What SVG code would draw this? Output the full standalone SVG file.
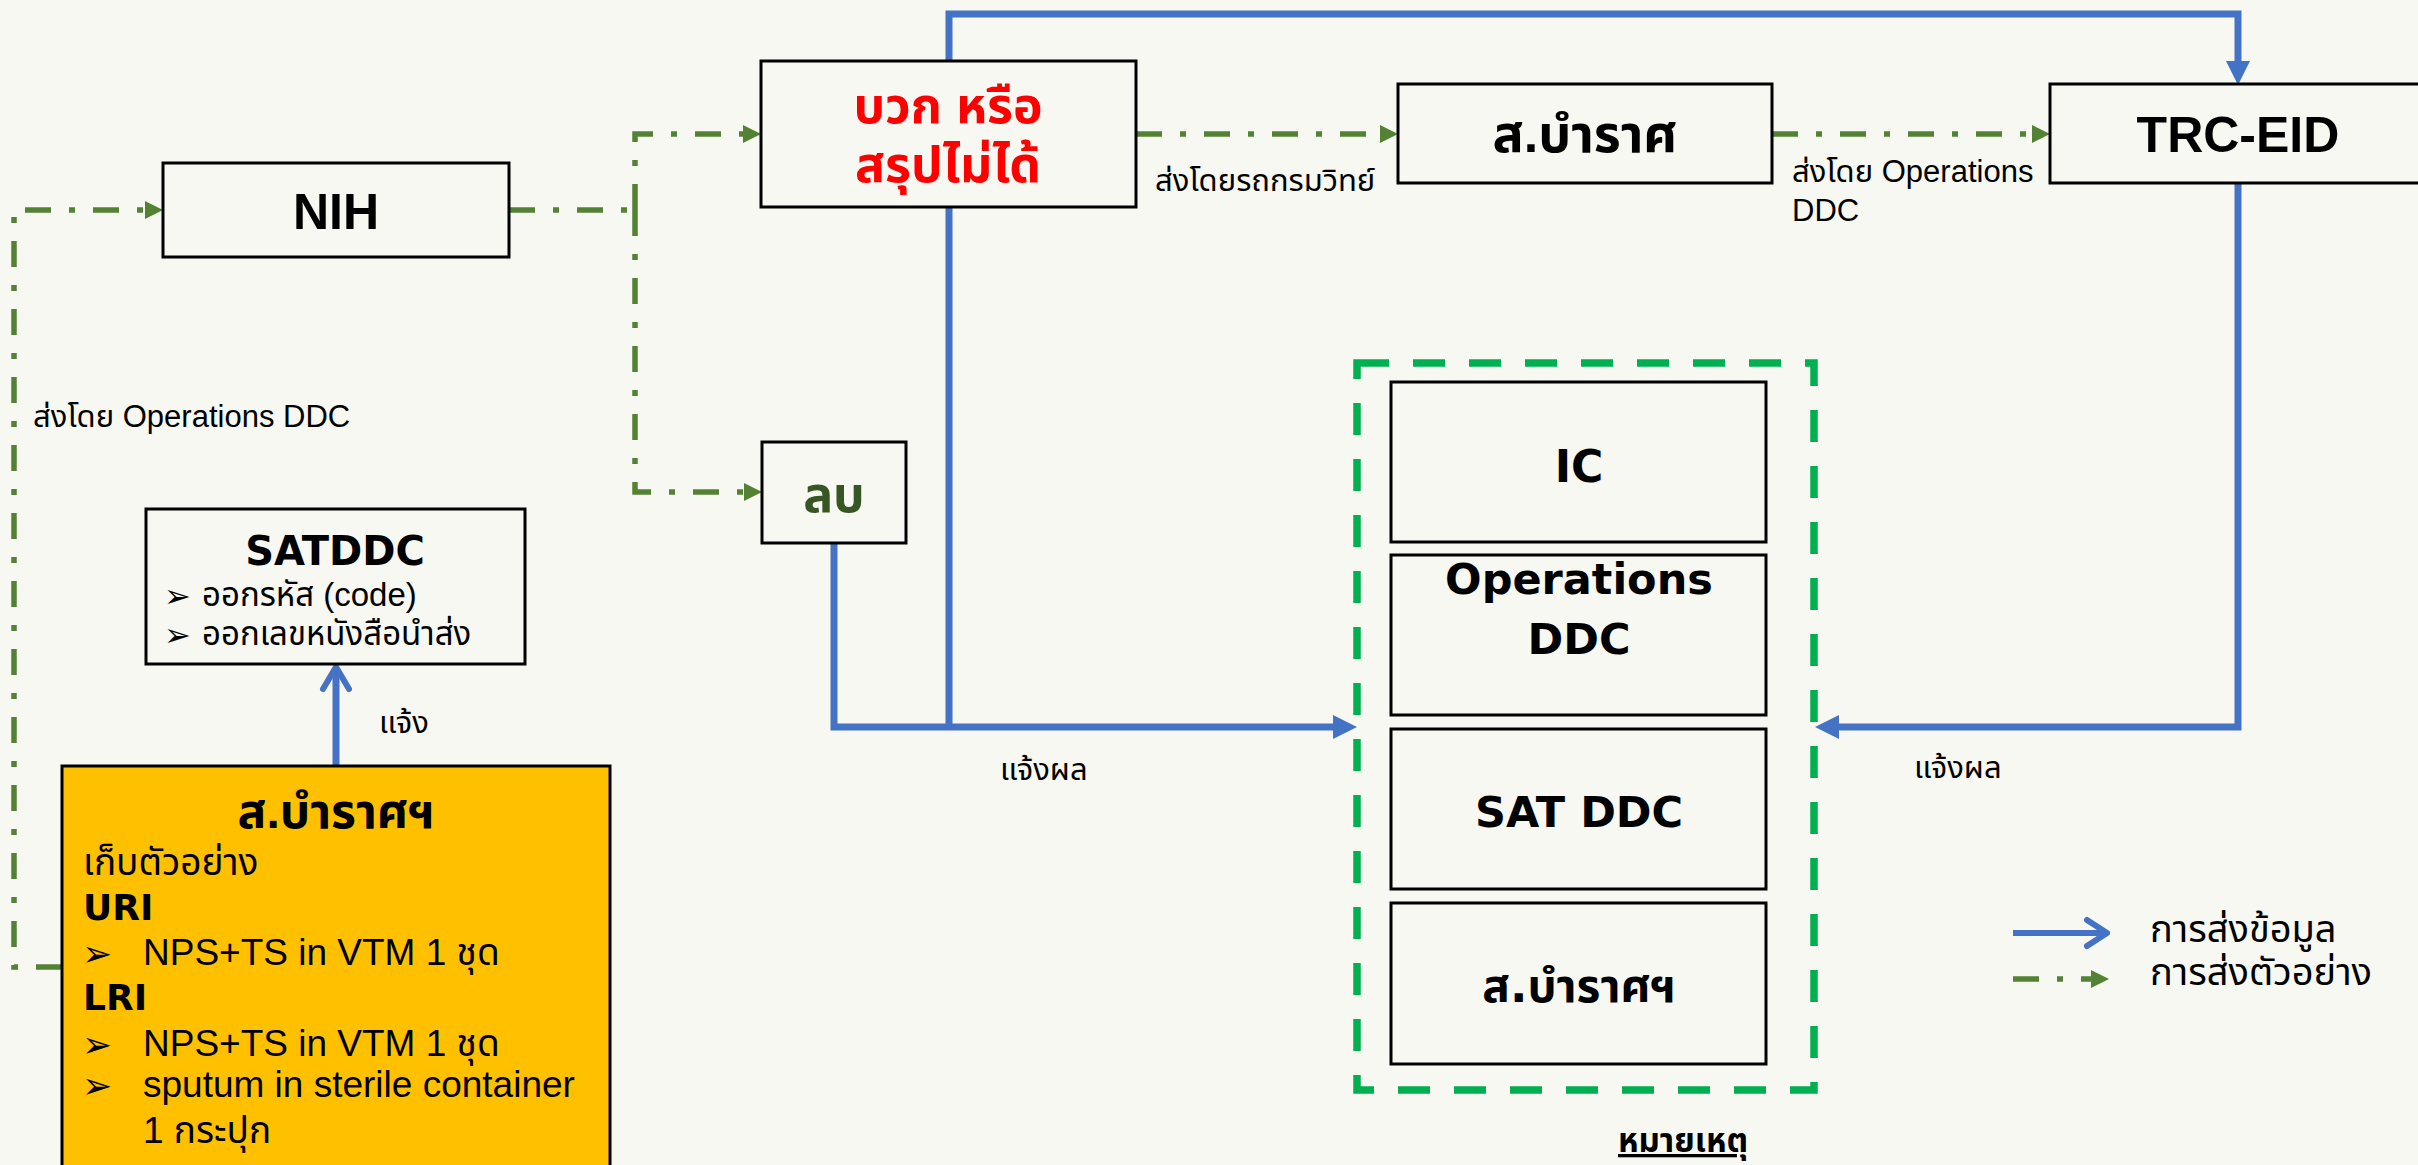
<svg xmlns="http://www.w3.org/2000/svg" width="2418" height="1165" viewBox="0 0 2418 1165">
<defs>
<style>
.bg{fill:#F6F8F1}
.box{fill:none;stroke:#000;stroke-width:3}
.t{font-family:"Liberation Sans","Noto Sans Thai","Noto Sans",sans-serif;fill:#000}
.v{font-family:"DejaVu Sans","Liberation Sans","Noto Sans Thai",sans-serif;fill:#000}
.b{font-weight:bold}
.m{text-anchor:middle}
.lbl{font-size:31px}
.blue{fill:none;stroke:#4472C4;stroke-width:7}
.green{fill:none;stroke:#548235;stroke-width:5.5;stroke-dasharray:26 18 6 18}
</style>
<marker id="ga" markerUnits="userSpaceOnUse" markerWidth="18" markerHeight="18" refX="0" refY="9" orient="auto">
<path d="M0,0 L18,9 L0,18 z" fill="#548235"/>
</marker>
<marker id="ba" markerUnits="userSpaceOnUse" markerWidth="24" markerHeight="24" refX="0" refY="12" orient="auto">
<path d="M0,0 L24,12 L0,24 z" fill="#4472C4"/>
</marker>
</defs>
<rect class="bg" x="0" y="0" width="2418" height="1165"/>

<g id="connectors">
<path class="green" d="M62,967 H14 V210 H145" marker-end="url(#ga)"/>
<path class="green" d="M509,210 H635"/>
<path class="green" d="M635,210 V134 H743" marker-end="url(#ga)"/>
<path class="green" d="M635,210 V492 H744" marker-end="url(#ga)"/>
<path class="green" d="M1136,134 H1380" marker-end="url(#ga)"/>
<path class="green" d="M1772,134 H2032" marker-end="url(#ga)"/>
<path class="blue" d="M949,61 V14 H2238 V61" marker-end="url(#ba)"/>
<path class="blue" d="M949,207 V727"/>
<path class="blue" d="M834,543 V727 H1333" marker-end="url(#ba)"/>
<path class="blue" d="M2238,183 V727 H1839" marker-end="url(#ba)"/>
<path class="blue" d="M336,766 V668"/>
<path d="M323,689 L336,667 L349,689" fill="none" stroke="#4472C4" stroke-width="6" stroke-linecap="round" stroke-linejoin="round"/>
<text class="t lbl" x="33" y="427">ส่งโดย Operations DDC</text>
<text class="t lbl" x="1155" y="191">ส่งโดยรถกรมวิทย์</text>
<text class="t lbl" x="1792" y="182">ส่งโดย Operations</text>
<text class="t lbl" x="1792" y="221">DDC</text>
<text class="t lbl" x="379" y="733">แจ้ง</text>
<text class="t lbl" x="1000" y="780">แจ้งผล</text>
<text class="t lbl" x="1914" y="778">แจ้งผล</text>
</g>

<g id="nih">
<rect class="box" x="163" y="163" width="346" height="94"/>
<text class="t b m" x="336" y="229" font-size="50">NIH</text>
</g>

<g id="positive">
<rect class="box" x="761" y="61" width="375" height="146"/>
<text class="t b m" x="948" y="123" font-size="50" style="fill:#FF0000">บวก หรือ</text>
<text class="t b m" x="948" y="182" font-size="50" style="fill:#FF0000">สรุปไม่ได้</text>
</g>

<g id="negative">
<rect class="box" x="762" y="442" width="144" height="101"/>
<text class="t b m" x="834" y="512" font-size="50" style="fill:#375623">ลบ</text>
</g>

<g id="bamrasnaradura">
<rect class="box" x="1398" y="84" width="374" height="99"/>
<text class="t b m" x="1585" y="152" font-size="52">ส.บำราศ</text>
</g>

<g id="trc-eid">
<rect class="box" x="2050" y="84" width="376" height="99"/>
<text class="t b m" x="2238" y="152" font-size="50">TRC-EID</text>
</g>

<g id="satddc">
<rect class="box" x="146" y="509" width="379" height="155"/>
<text class="v b m" x="335" y="565" font-size="40">SATDDC</text>
<text class="v" x="164" y="607" font-size="32">➢</text>
<text class="t" x="202" y="606" font-size="33">ออกรหัส (code)</text>
<text class="v" x="164" y="646" font-size="32">➢</text>
<text class="t" x="202" y="645" font-size="33">ออกเลขหนังสือนำส่ง</text>
</g>

<g id="collect">
<rect x="62" y="766" width="548" height="420" fill="#FFC000" stroke="#000" stroke-width="3"/>
<text class="t b m" x="336" y="828" font-size="48">ส.บำราศฯ</text>
<text class="t" x="83" y="875" font-size="37">เก็บตัวอย่าง</text>
<text class="v b" x="83" y="920" font-size="36">URI</text>
<text class="v" x="82" y="966" font-size="36">➢</text>
<text class="t" x="143" y="965" font-size="37">NPS+TS in VTM 1 ชุด</text>
<text class="v b" x="83" y="1010" font-size="36">LRI</text>
<text class="v" x="82" y="1057" font-size="36">➢</text>
<text class="t" x="143" y="1056" font-size="37">NPS+TS in VTM 1 ชุด</text>
<text class="v" x="82" y="1098" font-size="36">➢</text>
<text class="t" x="143" y="1097" font-size="37">sputum in sterile container</text>
<text class="t" x="143" y="1143" font-size="37">1 กระปุก</text>
</g>

<g id="receivers">
<rect x="1357" y="363" width="457" height="727" fill="none" stroke="#00B050" stroke-width="7.5" stroke-dasharray="32 24"/>
</g>
<g id="ic">
<rect class="box" x="1391" y="382" width="375" height="160"/>
<text class="v b m" x="1579" y="482" font-size="44">IC</text>
</g>
<g id="operations">
<rect class="box" x="1391" y="555" width="375" height="160"/>
<text class="v b m" x="1579" y="594" font-size="43">Operations</text>
<text class="v b m" x="1579" y="654" font-size="43">DDC</text>
</g>
<g id="sat-ddc">
<rect class="box" x="1391" y="729" width="375" height="160"/>
<text class="v b m" x="1579" y="827" font-size="43">SAT DDC</text>
</g>
<g id="bamras2">
<rect class="box" x="1391" y="903" width="375" height="161"/>
<text class="v b m" x="1579" y="1002" font-size="46">ส.บำราศฯ</text>
</g>

<g id="legend">
<path d="M2013,933 H2104" fill="none" stroke="#4472C4" stroke-width="6"/>
<path d="M2087,920 L2107,933 L2087,946" fill="none" stroke="#4472C4" stroke-width="6" stroke-linecap="round" stroke-linejoin="round"/>
<path class="green" d="M2013,979 H2091" marker-end="url(#ga)"/>
<text class="t" x="2150" y="942" font-size="38">การส่งข้อมูล</text>
<text class="t" x="2150" y="985" font-size="38">การส่งตัวอย่าง</text>
</g>

<g id="note">
<text class="t b" x="1618" y="1152" font-size="33" text-decoration="underline">หมายเหตุ</text>
</g>
</svg>
